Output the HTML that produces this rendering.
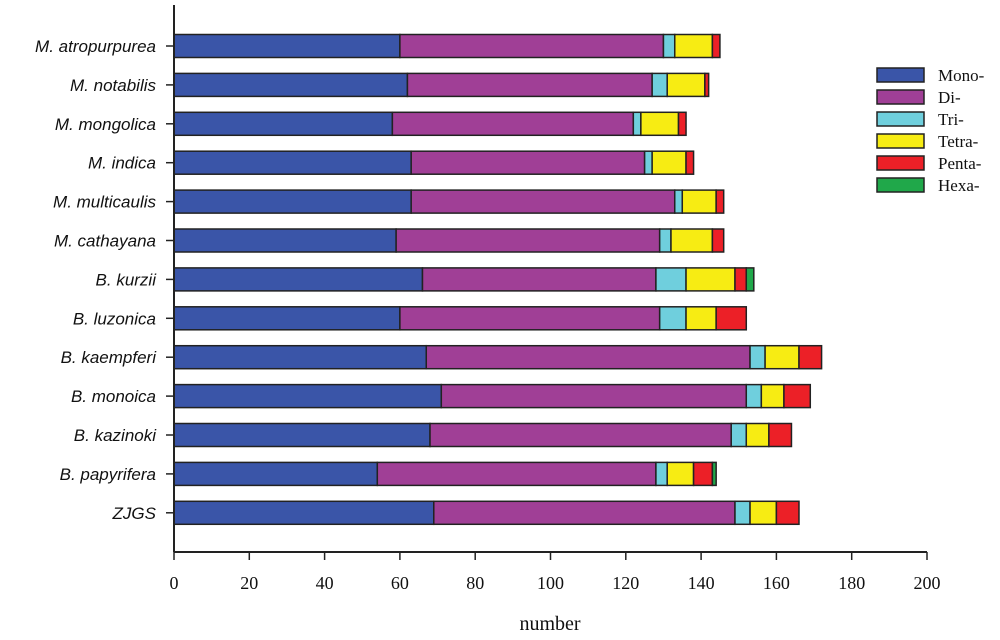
<!DOCTYPE html>
<html><head><meta charset="utf-8"><style>
html,body{margin:0;padding:0;background:#fff;}
svg{display:block;}
</style></head><body>
<svg id="chart" width="1000" height="640" xmlns="http://www.w3.org/2000/svg">
<g id="bars"></g>
<g id="axes"></g>
<g id="legend"></g>
</svg>
<script>
const categories = ["M. atropurpurea","M. notabilis","M. mongolica","M. indica","M. multicaulis","M. cathayana","B. kurzii","B. luzonica","B. kaempferi","B. monoica","B. kazinoki","B. papyrifera","ZJGS"];
const seriesNames = ["Mono-","Di-","Tri-","Tetra-","Penta-","Hexa-"];
const mono  = [60,62,58,63,63,59,66,60,67,71,68,54,69];
const di    = [70,65,64,62,70,70,62,69,86,81,80,74,80];
const tri   = [3,4,2,2,2,3,8,7,4,4,4,3,4];
const tetra = [10,10,10,9,9,11,13,8,9,6,6,7,7];
const penta = [2,1,2,2,2,3,3,8,6,7,6,5,6];
const hexa  = [0,0,0,0,0,0,2,0,0,0,0,1,0];
const xTicks = [0,20,40,60,80,100,120,140,160,180,200];
const colors = ["#3a55a8","#a03f96","#6fcfdd","#f7ec13","#ec2027","#20a84a"];

const NS="http://www.w3.org/2000/svg";
const x0=174, x1=927, xMax=200, yTop=5, yBase=552;
const xs = v => x0 + (v/xMax)*(x1-x0);
const yc = i => 46 + i*38.9;
const barH = 23;
function mk(tag, attrs, parent){const e=document.createElementNS(NS,tag);for(const k in attrs)e.setAttribute(k,attrs[k]);parent.appendChild(e);return e;}
const gb=document.getElementById('bars'), ga=document.getElementById('axes'), gl=document.getElementById('legend');
const series=[mono,di,tri,tetra,penta,hexa];
categories.forEach((c,i)=>{
  let acc=0;
  series.forEach((s,k)=>{
    const v=s[i]; if(v<=0) return;
    const r=mk('rect',{x:xs(acc),y:yc(i)-barH/2,width:xs(acc+v)-xs(acc),height:barH,fill:colors[k],stroke:'#222','stroke-width':1.5},gb);
    
    
    acc+=v;
  });
  const t=mk('text',{x:156,y:yc(i)+6,'text-anchor':'end','font-family':'Liberation Sans, sans-serif','font-size':17,'font-style':'italic',fill:'#111'},ga);
  t.textContent=c;
  
  
  mk('line',{x1:166,x2:x0,y1:yc(i),y2:yc(i),stroke:'#222','stroke-width':1.5},ga);
});
mk('line',{x1:x0,x2:x0,y1:yTop,y2:yBase,stroke:'#222','stroke-width':2},ga);
mk('line',{x1:x0,x2:x1,y1:yBase,y2:yBase,stroke:'#222','stroke-width':2},ga);
xTicks.forEach(v=>{
  mk('line',{x1:xs(v),x2:xs(v),y1:yBase,y2:yBase+8,stroke:'#222','stroke-width':1.5},ga);
  const t=mk('text',{x:xs(v),y:589,'text-anchor':'middle','font-family':'Liberation Serif, serif','font-size':18,fill:'#111'},ga);
  t.textContent=v;
  
  
});
const xt=mk('text',{x:550,y:630,'text-anchor':'middle','font-family':'Liberation Serif, serif','font-size':20,fill:'#111'},ga);
xt.textContent='number';


seriesNames.forEach((n,k)=>{
  const y=75+k*22;
  const r=mk('rect',{x:877,y:y-7,width:47,height:14,fill:colors[k],stroke:'#222','stroke-width':1.5},gl);
  
  
  const t=mk('text',{x:938,y:y+6,'font-family':'Liberation Serif, serif','font-size':17,fill:'#111'},gl);
  t.textContent=n;
  
  
});
</script>
</body></html>
